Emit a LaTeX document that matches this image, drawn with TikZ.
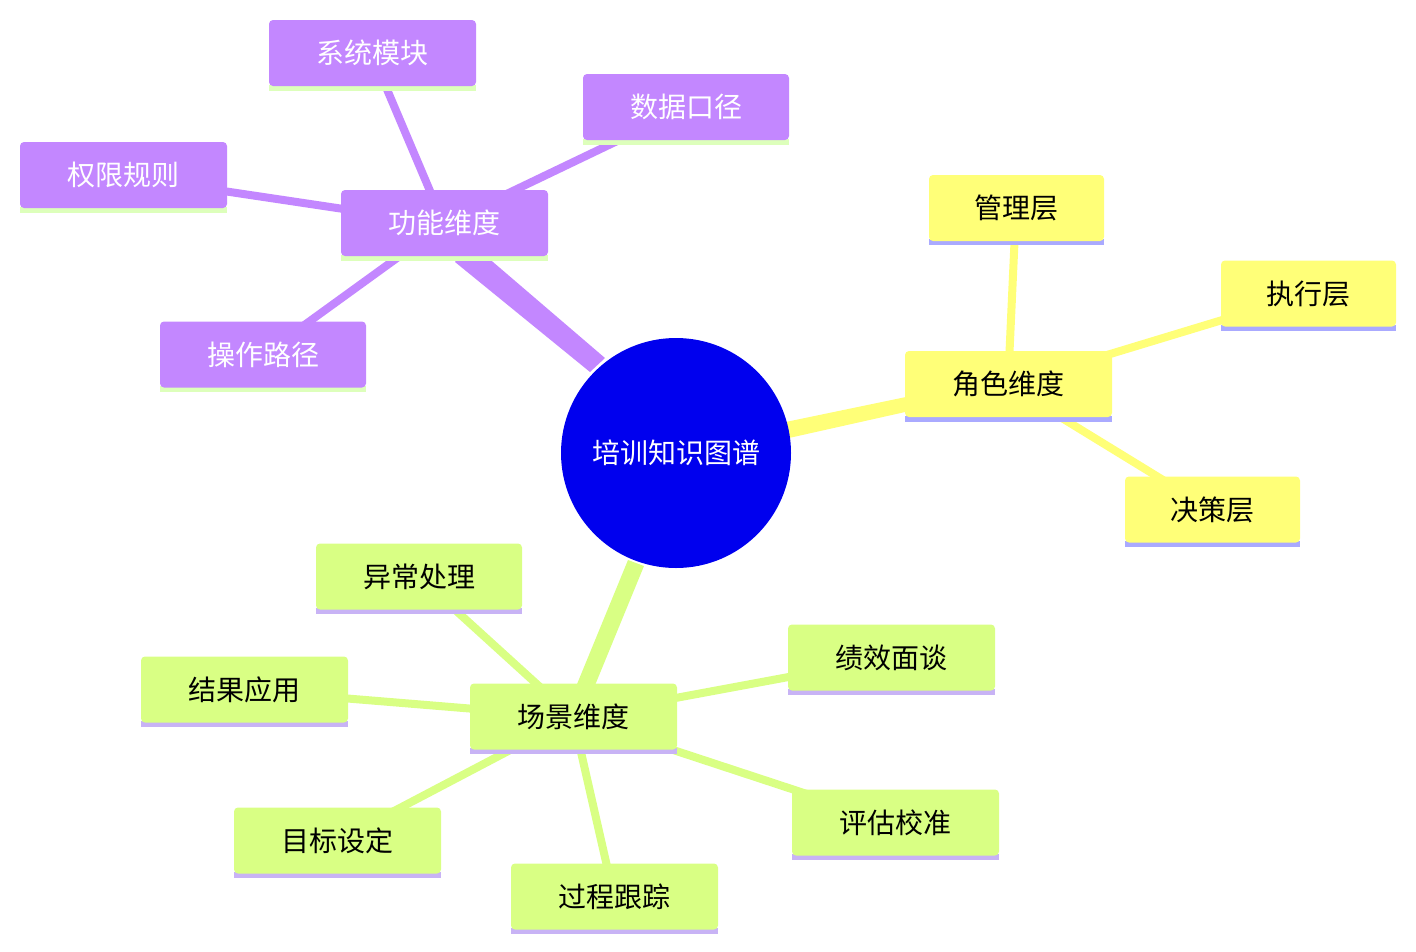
\documentclass[tikz,border=0pt]{standalone}
\usepackage{fontspec}
\setmainfont{Noto Sans CJK SC}
\begin{document}
\begin{tikzpicture}[x=1pt,y=-1pt,
  box/.style={rounded corners=4pt,minimum height=66pt,inner sep=0pt,font=\fontsize{28}{30}\selectfont},
  pbox/.style={box,fill=purpbg,text=white},
  ybox/.style={box,fill=yelbg,text=black},
  gbox/.style={box,fill=grnbg,text=black},
  pe/.style={draw=purpbg,line width=8pt},
  ye/.style={draw=yelbg,line width=8pt},
  ge/.style={draw=grnbg,line width=8pt}]
\definecolor{purpbg}{HTML}{C387FF}
\definecolor{yelbg}{HTML}{FFFF78}
\definecolor{grnbg}{HTML}{D9FF84}
\definecolor{purpln}{HTML}{DDFFBB}
\definecolor{yelln}{HTML}{AAAAFF}
\definecolor{grnln}{HTML}{C8B3F5}
\useasboundingbox (0,0) rectangle (1416,951);
\coordinate (c) at (676,453);
\coordinate (F) at (444,224);
\coordinate (F1) at (372,54);
\coordinate (F2) at (686,108);
\coordinate (F3) at (123,176);
\coordinate (F4) at (263,355);
\coordinate (R) at (1008,385);
\coordinate (R1) at (1016,209);
\coordinate (R2) at (1308,294);
\coordinate (R3) at (1212,510);
\coordinate (S) at (573,717);
\coordinate (S1) at (419,577);
\coordinate (S2) at (244,690);
\coordinate (S3) at (891,658);
\coordinate (S4) at (895,823);
\coordinate (S5) at (337,841);
\coordinate (S6) at (614,897);
% edges
\draw[pe] (F) -- (F1); \draw[pe] (F) -- (F2); \draw[pe] (F) -- (F3); \draw[pe] (F) -- (F4);
\draw[ye] (R) -- (R1); \draw[ye] (R) -- (R2); \draw[ye] (R) -- (R3);
\draw[ge] (S) -- (S1); \draw[ge] (S) -- (S2); \draw[ge] (S) -- (S3); \draw[ge] (S) -- (S4); \draw[ge] (S) -- (S5); \draw[ge] (S) -- (S6);
\fill[purpbg] (590,372) -- (605,358) -- (472,244) -- (455,262) -- cycle;
\fill[yelbg] (780,440) -- (776,424) -- (930,392) -- (932,406) -- cycle;
\fill[grnbg] (628,560) -- (644,566) -- (584,712) -- (568,706) -- cycle;
% nodes
\newcommand{\bx}[7]{%
  \fill[#2] (#3,#6-2) rectangle (#5,#6+4);
  \node[#1,minimum width=#5pt-#3pt] (n#3) at ({(#3+#5)/2},{(#4+#6)/2-1}) {#7};}
\bx{pbox}{purpln}{341}{191}{548}{257}{功能维度}
\bx{pbox}{purpln}{269}{21}{476}{87}{系统模块}
\bx{pbox}{purpln}{583}{75}{789}{141}{数据口径}
\bx{pbox}{purpln}{20}{143}{227}{209}{权限规则}
\bx{pbox}{purpln}{160}{323}{366}{388}{操作路径}
\bx{ybox}{yelln}{905}{352}{1112}{418}{角色维度}
\bx{ybox}{yelln}{929}{177}{1104}{241}{管理层}
\bx{ybox}{yelln}{1221}{262}{1396}{327}{执行层}
\bx{ybox}{yelln}{1125}{478}{1300}{543}{决策层}
\bx{gbox}{grnln}{470}{685}{677}{750}{场景维度}
\bx{gbox}{grnln}{316}{545}{522}{610}{异常处理}
\bx{gbox}{grnln}{141}{658}{348}{723}{结果应用}
\bx{gbox}{grnln}{788}{626}{995}{691}{绩效面谈}
\bx{gbox}{grnln}{792}{791}{999}{856}{评估校准}
\bx{gbox}{grnln}{234}{809}{441}{874}{目标设定}
\bx{gbox}{grnln}{511}{865}{718}{930}{过程跟踪}
\node[circle,fill={rgb,255:red,0;green,0;blue,238},minimum size=230pt,text=white,font=\fontsize{28}{30}\selectfont] (center) at (c) {培训知识图谱};
\end{tikzpicture}
\end{document}
